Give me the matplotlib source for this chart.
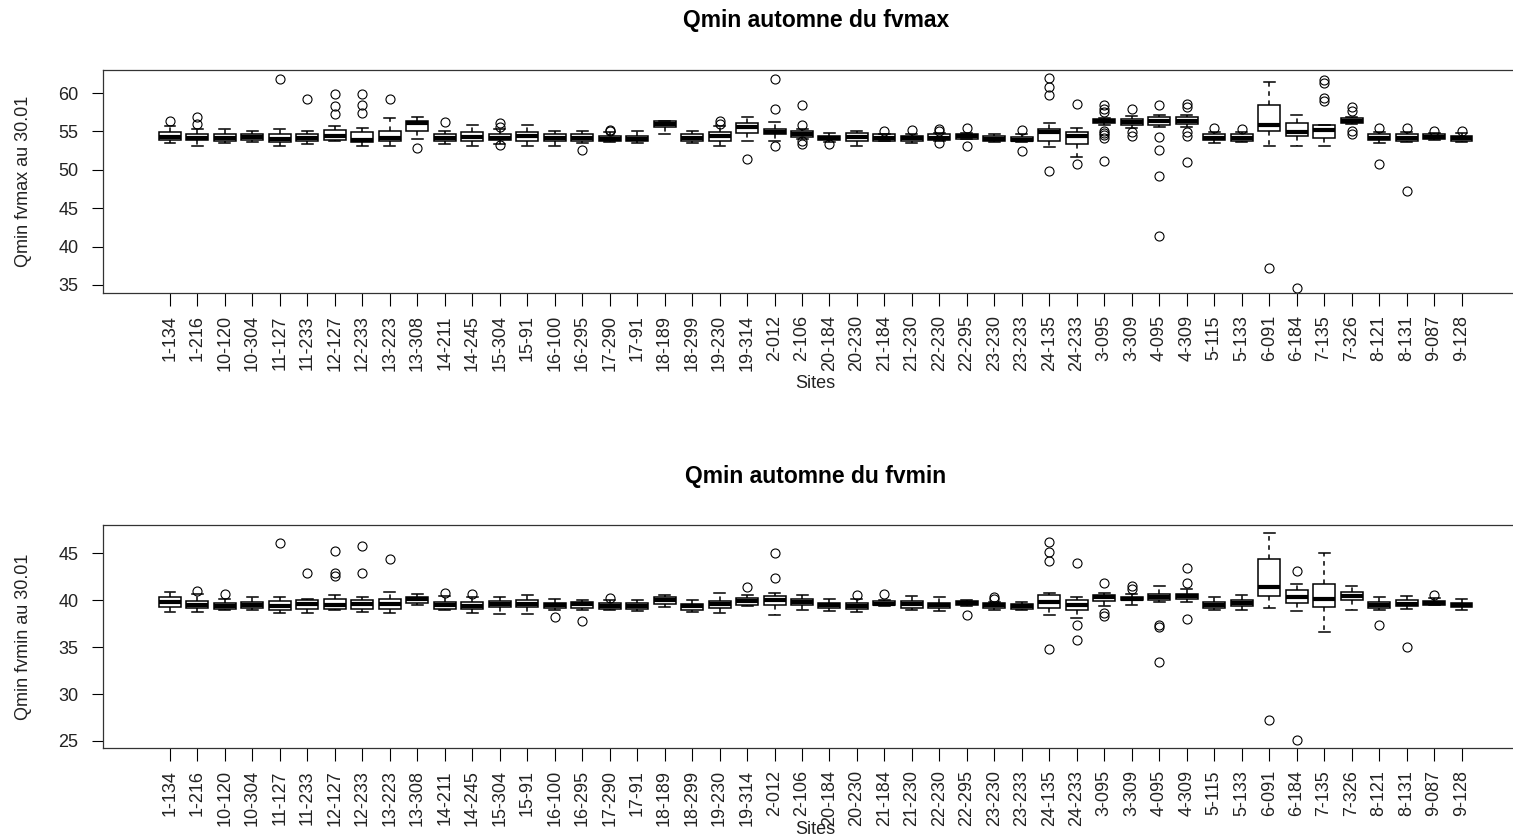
import matplotlib
matplotlib.use("Agg")
import matplotlib.pyplot as plt

plt.rcParams['font.family'] = ['Liberation Sans', 'DejaVu Sans']

# Site names (x axis, same for both panels)
sites = ["1-134", "1-216", "10-120", "10-304", "11-127", "11-233", "12-127", "12-233",
         "13-223", "13-308", "14-211", "14-245", "15-304", "15-91", "16-100", "16-295",
         "17-290", "17-91", "18-189", "18-299", "19-230", "19-314", "2-012", "2-106",
         "20-184", "20-230", "21-184", "21-230", "22-230", "22-295", "23-230", "23-233",
         "24-135", "24-233", "3-095", "3-309", "4-095", "4-309", "5-115", "5-133",
         "6-091", "6-184", "7-135", "7-326", "8-121", "8-131", "9-087", "9-128"]

# Box statistics for Qmin fvmax
max_wlo = [53.5, 53.1, 53.5, 53.6, 53.1, 53.3, 53.7, 53.1, 53.1, 54.0, 53.3, 53.1,
           53.35, 53.1, 53.1, 53.5, 53.6, 53.5, 54.7, 53.5, 53.1, 53.8, 53.8, 54.0,
           53.6, 53.1, 53.7, 53.5, 53.8, 54.0, 53.6, 53.6, 53.0, 51.7, 55.9, 55.5,
           55.6, 55.6, 53.5, 53.6, 53.1, 53.1, 53.1, 56.0, 53.5, 53.6, 53.9, 53.6]
max_q1 = [53.9, 53.9, 53.7, 53.9, 53.6, 53.7, 53.9, 53.6, 53.75, 55.0, 53.7, 53.8,
          53.9, 53.8, 53.7, 53.8, 53.7, 53.7, 55.55, 53.8, 53.8, 54.8, 54.6, 54.3,
          53.9, 53.7, 53.8, 53.8, 53.9, 54.0, 53.7, 53.7, 53.8, 53.3, 56.15, 55.8,
          55.85, 56.0, 53.9, 53.8, 55.0, 54.45, 54.1, 56.1, 53.9, 53.8, 54.0, 53.8]
max_med = [54.3, 54.2, 54.15, 54.3, 54.0, 54.1, 54.45, 53.9, 54.15, 56.15, 54.2, 54.3,
           54.2, 54.4, 54.15, 54.15, 54.0, 54.0, 56.0, 54.15, 54.45, 55.55, 54.95, 54.7,
           54.15, 54.3, 54.15, 54.1, 54.15, 54.35, 54.0, 53.9, 54.9, 54.45, 56.4, 56.2,
           56.4, 56.4, 54.2, 54.15, 55.85, 54.9, 55.2, 56.4, 54.2, 54.15, 54.3, 54.15]
max_q3 = [54.9, 54.6, 54.7, 54.7, 54.6, 54.6, 55.2, 54.9, 55.0, 56.3, 54.7, 54.9,
          54.6, 54.9, 54.7, 54.6, 54.45, 54.45, 56.3, 54.6, 54.9, 56.1, 55.3, 55.0,
          54.45, 54.75, 54.6, 54.35, 54.6, 54.7, 54.35, 54.3, 55.3, 54.9, 56.6, 56.6,
          56.85, 56.85, 54.6, 54.6, 58.5, 56.1, 55.9, 56.8, 54.6, 54.6, 54.6, 54.45]
max_whi = [55.7, 55.3, 55.3, 55.1, 55.3, 55.1, 55.7, 55.5, 56.7, 56.9, 55.1, 55.85,
           55.3, 55.85, 55.0, 55.0, 54.9, 55.1, 56.4, 55.0, 55.7, 56.85, 56.2, 55.3,
           54.8, 55.1, 54.7, 54.6, 54.75, 54.8, 54.7, 54.7, 56.1, 55.5, 56.8, 57.0,
           57.2, 57.2, 54.9, 54.9, 61.45, 57.1, 55.9, 56.9, 54.9, 54.9, 54.8, 54.8]
max_out = [[56.4], [56.9, 56.0], [], [], [61.8], [59.2], [59.9, 58.3, 57.25],
           [59.9, 58.5, 57.4], [59.2], [52.8], [56.2], [], [56.1, 55.6, 53.2], [], [],
           [52.6], [55.2, 55.05], [], [], [], [56.3, 56.0], [51.4], [61.8, 57.9, 53.1],
           [58.4, 55.8, 53.8, 53.4], [53.4], [], [55.1], [55.2], [55.25, 55.0, 53.45],
           [55.4, 53.1], [], [55.2, 52.5], [62.0, 60.8, 59.7, 49.9], [58.6, 50.7],
           [58.5, 57.9, 57.5, 55.1, 54.8, 54.5, 54.2, 51.2], [57.9, 54.9, 54.45],
           [58.4, 54.3, 52.6, 49.2, 41.4], [58.6, 58.2, 54.9, 54.45, 51.0], [55.4],
           [55.3], [37.2], [34.6], [61.7, 61.3, 59.3, 59.0], [58.2, 57.6, 55.1, 54.6],
           [55.4, 50.7], [55.4, 47.2], [55.1], [55.1]]

# Box statistics for Qmin fvmin
min_wlo = [38.75, 38.75, 38.9, 39.0, 38.6, 38.6, 39.0, 38.75, 38.6, 39.45, 38.9, 38.6,
           38.5, 38.5, 39.0, 39.0, 39.0, 38.85, 39.3, 38.75, 38.6, 39.4, 38.4, 39.0,
           38.85, 38.75, 39.4, 39.0, 38.85, 39.4, 39.0, 39.0, 38.4, 38.1, 39.4, 39.5,
           39.75, 39.75, 38.9, 39.0, 39.2, 38.85, 36.6, 39.0, 38.9, 39.1, 39.45, 39.0]
min_q1 = [39.3, 39.2, 39.1, 39.2, 39.0, 39.1, 39.1, 39.1, 39.1, 39.7, 39.1, 39.1,
          39.3, 39.3, 39.2, 39.2, 39.1, 39.1, 39.6, 39.0, 39.2, 39.5, 39.5, 39.45,
          39.2, 39.1, 39.45, 39.2, 39.2, 39.5, 39.2, 39.1, 39.2, 39.0, 39.9, 40.0,
          40.0, 40.1, 39.2, 39.4, 40.45, 39.7, 39.3, 40.0, 39.2, 39.4, 39.45, 39.25]
min_med = [39.75, 39.45, 39.4, 39.5, 39.4, 39.6, 39.5, 39.6, 39.6, 40.1, 39.45, 39.4,
           39.6, 39.6, 39.45, 39.55, 39.4, 39.4, 40.0, 39.35, 39.55, 39.9, 40.0, 39.8,
           39.45, 39.4, 39.6, 39.55, 39.45, 39.7, 39.45, 39.35, 39.75, 39.5, 40.35, 40.15,
           40.35, 40.45, 39.5, 39.7, 41.45, 40.35, 40.15, 40.45, 39.45, 39.6, 39.7, 39.5]
min_q3 = [40.3, 39.9, 39.7, 39.8, 39.9, 40.0, 40.15, 40.0, 40.15, 40.3, 39.8, 39.75,
          39.9, 40.0, 39.7, 39.85, 39.7, 39.7, 40.3, 39.6, 39.9, 40.2, 40.45, 40.15,
          39.7, 39.7, 39.9, 39.9, 39.7, 39.9, 39.7, 39.6, 40.5, 40.0, 40.5, 40.35,
          40.7, 40.7, 39.8, 40.0, 44.4, 41.05, 41.75, 40.9, 39.8, 40.0, 39.9, 39.7]
min_whi = [40.9, 40.6, 40.15, 40.3, 40.3, 40.1, 40.5, 40.3, 40.9, 40.7, 40.4, 40.3,
           40.3, 40.5, 40.1, 40.0, 40.0, 40.0, 40.5, 40.0, 40.8, 40.5, 40.8, 40.5,
           40.15, 40.1, 40.0, 40.4, 40.3, 40.0, 39.85, 39.8, 40.8, 40.3, 40.75, 40.6,
           41.5, 41.2, 40.3, 40.5, 47.15, 41.75, 45.05, 41.5, 40.3, 40.4, 40.2, 40.15]
min_out = [[], [41.0], [40.6], [], [46.1], [42.9], [45.2, 42.9, 42.6], [45.8, 42.9],
           [44.4], [], [40.75], [40.7], [], [], [38.2], [37.75], [40.2], [], [], [], [],
           [41.4], [45.0, 42.35], [], [], [40.5], [40.7], [], [], [38.45], [40.35, 40.1],
           [], [46.2, 45.1, 44.15, 34.8], [44.0, 37.3, 35.75], [41.8, 38.6, 38.3],
           [41.5, 41.2], [37.4, 37.1, 33.45], [43.45, 41.8, 38.0], [], [], [27.2],
           [43.15, 25.1], [], [], [37.4], [35.0], [40.5], []]


def draw_panel(ax, wlo, q1, med, q3, whi, out, ylabel, ylim, yticks, xlab_y):
    # build the stats list that bxp wants
    stats = []
    for i in range(len(sites)):
        stats.append({"whislo": wlo[i], "q1": q1[i], "med": med[i], "q3": q3[i],
                      "whishi": whi[i], "fliers": out[i], "label": sites[i]})
    ax.bxp(stats, positions=range(1, len(sites) + 1), widths=0.8, capwidths=0.4,
           patch_artist=True,
           boxprops=dict(facecolor="white", edgecolor="black", linewidth=1.1),
           medianprops=dict(color="black", linewidth=3, solid_capstyle="butt"),
           whiskerprops=dict(color="black", linewidth=1.1, linestyle=(0, (3, 3))),
           capprops=dict(color="black", linewidth=1.1),
           flierprops=dict(marker="o", markerfacecolor="none", markeredgecolor="black",
                           markersize=6.5, markeredgewidth=0.8))
    ax.set_xlim(-1.42, len(sites) + 2.42)
    ax.set_ylim(*ylim)
    ax.set_yticks(yticks)
    ax.set_xticks(range(1, len(sites) + 1))
    ax.set_xticklabels(sites, rotation=90, fontsize=13, color="#222222")
    ax.tick_params(axis="x", length=9, width=0.8, pad=7)
    ax.tick_params(axis="y", length=8, width=0.8, pad=10, labelsize=13, labelcolor="#222222")
    for s in ax.spines.values():
        s.set_linewidth(0.9)
        s.set_color("#333333")
    ax.set_xlabel("Sites", fontsize=13, color="#222222")
    ax.xaxis.set_label_coords(0.5, xlab_y)
    ax.xaxis.label.set_va("center")
    ax.set_ylabel(ylabel, fontsize=13, va="center", color="#222222")
    ax.yaxis.set_label_coords(-0.056, 0.5)


fig = plt.figure(figsize=(15.13, 8.4), dpi=100)
ax1 = fig.add_axes([103.5 / 1513, 1 - 293 / 840, 1424.5 / 1513, 223 / 840])
ax2 = fig.add_axes([103.5 / 1513, 1 - 748 / 840, 1424.5 / 1513, 223 / 840])

draw_panel(ax1, max_wlo, max_q1, max_med, max_q3, max_whi, max_out,
           "Qmin fvmax au 30.01", (33.95, 63.0), [35, 40, 45, 50, 55, 60], -0.405)
draw_panel(ax2, min_wlo, min_q1, min_med, min_q3, min_whi, min_out,
           "Qmin fvmin au 30.01", (24.25, 48.0), [25, 30, 35, 40, 45], -0.365)

# titles are centred over the axes (which run past the right edge)
fig.text(816 / 1513, 1 - 20 / 840, "Qmin automne du fvmax", ha="center", va="center",
         fontsize=16.5, fontweight="bold")
fig.text(816 / 1513, 1 - 476 / 840, "Qmin automne du fvmin", ha="center", va="center",
         fontsize=16.5, fontweight="bold")

fig.savefig("out.png", dpi=100)
